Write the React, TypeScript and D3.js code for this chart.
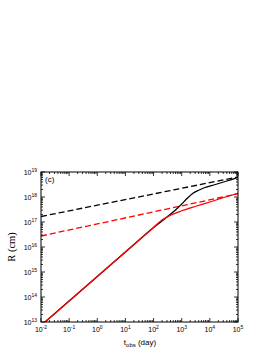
import React from 'react';
import * as d3 from 'd3';

// log10 of t_obs (day) and log10 of R (cm)
const redSolidT = [-1.86, 0, 1, 2, 2.3, 2.6, 3.0, 3.5, 4.0, 4.5, 5.0];
const redSolidR = [13.0, 14.82, 15.8, 16.78, 17.08, 17.27, 17.45, 17.63, 17.8, 17.98, 18.15];
const blackSolidT = [-1.86, 0, 1, 2, 2.52, 2.8, 3.0, 3.2, 3.4, 3.6, 3.8, 4.2, 4.6, 5.0];
const blackSolidR = [13.0, 14.82, 15.8, 16.78, 17.24, 17.5, 17.72, 17.95, 18.15, 18.27, 18.37, 18.5, 18.64, 18.79];
const redDashT = [-2, 5];
const redDashR = [16.44, 18.13];
const blackDashT = [-2, 5];
const blackDashR = [17.22, 18.8];

const xExps = [-2, -1, 0, 1, 2, 3, 4, 5];
const yExps = [13, 14, 15, 16, 17, 18, 19];

const margin = { left: 41, right: 35, top: 172, bottom: 31 };
const W = 273;
const H = 353;

export default function App() {
  const x = d3.scaleLinear().domain([-2, 5]).range([margin.left, W - margin.right]);
  const y = d3.scaleLinear().domain([13, 19]).range([H - margin.bottom, margin.top]);

  const line = d3
    .line<[number, number]>()
    .x((d) => x(d[0]))
    .y((d) => y(d[1]))
    .curve(d3.curveMonotoneX);

  const pts = (t: number[], r: number[]) => t.map((v, i) => [v, r[i]] as [number, number]);

  const minors = (exps: number[]) => {
    const out: number[] = [];
    for (let i = 0; i < exps.length - 1; i++) {
      for (let k = 2; k < 10; k++) out.push(exps[i] + Math.log10(k));
    }
    return out;
  };

  const x0 = x(-2), x1 = x(5), y0 = y(13), y1 = y(19);
  const font = 'Liberation Sans, Arial, sans-serif';

  return (
    <svg
      width={W}
      height={H}
      style={{ position: 'absolute', left: 0, top: 0, background: '#fff' }}
    >
      <defs>
        <clipPath id="plot">
          <rect x={x0} y={y1} width={x1 - x0} height={y0 - y1} />
        </clipPath>
      </defs>

      {/* curves */}
      <g clipPath="url(#plot)" fill="none" strokeWidth={1.3}>
        <path d={line(pts(blackDashT, blackDashR)) || ''} stroke="#000" strokeDasharray="6,3" />
        <path d={line(pts(redDashT, redDashR)) || ''} stroke="#ff0000" strokeDasharray="6,3" />
        <path d={line(pts(blackSolidT, blackSolidR)) || ''} stroke="#000" />
        <path d={line(pts(redSolidT, redSolidR)) || ''} stroke="#ff0000" />
      </g>

      {/* frame */}
      <rect x={x0} y={y1} width={x1 - x0} height={y0 - y1} fill="none" stroke="#000" strokeWidth={1} />

      {/* ticks, inward on all sides */}
      <g stroke="#000" strokeWidth={0.8}>
        {xExps.map((e) => (
          <g key={'xM' + e}>
            <line x1={x(e)} x2={x(e)} y1={y0} y2={y0 - 4} />
            <line x1={x(e)} x2={x(e)} y1={y1} y2={y1 + 4} />
          </g>
        ))}
        {minors(xExps).map((v, i) => (
          <g key={'xm' + i}>
            <line x1={x(v)} x2={x(v)} y1={y0} y2={y0 - 2} />
            <line x1={x(v)} x2={x(v)} y1={y1} y2={y1 + 2} />
          </g>
        ))}
        {yExps.map((e) => (
          <g key={'yM' + e}>
            <line x1={x0} x2={x0 + 4} y1={y(e)} y2={y(e)} />
            <line x1={x1} x2={x1 - 4} y1={y(e)} y2={y(e)} />
          </g>
        ))}
        {minors(yExps).map((v, i) => (
          <g key={'ym' + i}>
            <line x1={x0} x2={x0 + 2} y1={y(v)} y2={y(v)} />
            <line x1={x1} x2={x1 - 2} y1={y(v)} y2={y(v)} />
          </g>
        ))}
      </g>

      {/* tick labels */}
      <g fontFamily={font} fontSize={7} fill="#000">
        {xExps.map((e) => (
          <text key={'xl' + e} x={x(e)} y={y0 + 10} textAnchor="middle">
            10<tspan fontSize={5} dy={-3}>{e}</tspan>
          </text>
        ))}
        {yExps.map((e) => (
          <text key={'yl' + e} x={x0 - 4} y={y(e) + 3} textAnchor="end">
            10<tspan fontSize={5} dy={-3}>{e}</tspan>
          </text>
        ))}
      </g>

      {/* axis titles */}
      <text x={140} y={345} textAnchor="middle" fontFamily={font} fontSize={8}>
        t<tspan fontSize={6} dy={2}>obs</tspan>
        <tspan dy={-2}> (day)</tspan>
      </text>
      <text
        transform={`translate(15,${(y0 + y1) / 2}) rotate(-90)`}
        textAnchor="middle"
        fontFamily="Liberation Serif, Times New Roman, serif"
        fontSize={10.5}
      >
        R (cm)
      </text>

      <text x={x0 + 4} y={y1 + 10} fontFamily={font} fontSize={8}>
        (c)
      </text>
    </svg>
  );
}
